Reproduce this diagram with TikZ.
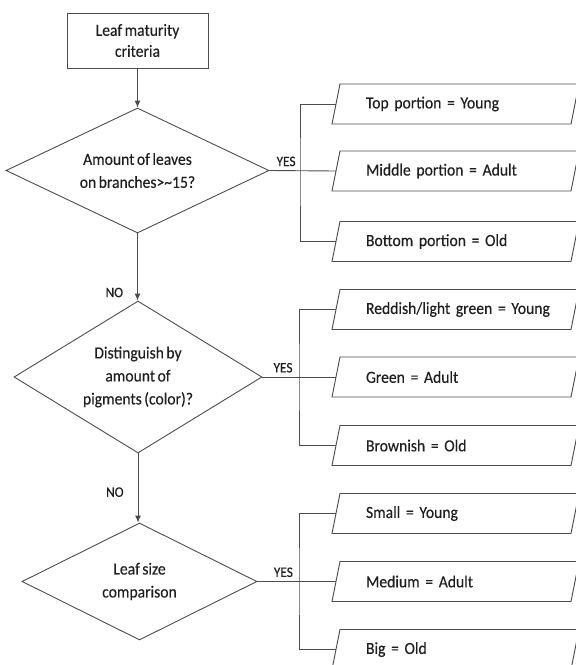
\documentclass[tikz,border=0pt]{standalone}
\usepackage{fontspec}
\setmainfont{Carlito}[FakeStretch=0.92, WordSpace=0.7, FakeBold=0.3]
\usetikzlibrary{shapes.geometric,arrows.meta}
\definecolor{linec}{gray}{0.3}
\definecolor{textc}{gray}{0.12}
\tikzset{
  line/.style={draw=linec, line width=0.9pt},
  arrowline/.style={line, -{Latex[length=7pt,width=6pt]}},
  startbox/.style={line, rectangle, minimum width=141pt, minimum height=55pt, inner sep=0pt, align=center, text=textc, font=\fontsize{17}{21}\selectfont},
  decision/.style={line, diamond, inner sep=0pt, align=center, text=textc, font=\fontsize{17}{23}\selectfont},
  ptext/.style={rectangle, minimum height=40pt, text width=205pt, inner xsep=0pt, align=left, text=textc, font=\fontsize{17}{21}\selectfont},
  lbl/.style={text=textc, inner sep=1pt, font=\fontsize{14.5}{16}\selectfont},
}
\newcommand{\paraout}[3]{%
  \node[ptext] (#1) at (468.5,#2) {#3};
  \draw[line] (332,#2+20) -- (340,#2-20) -- (579,#2-20) -- (571,#2+20) -- cycle;
  \coordinate (#1w) at (336,#2);
}
\begin{document}
\begin{tikzpicture}[x=1pt,y=-1pt]
\useasboundingbox (0,0) rectangle (576,665);
\clip (0,0) rectangle (576,665);

\node[startbox] (start) at (137.5,40.5) {Leaf maturity\\criteria};

\node[decision, minimum width=263pt, minimum height=125pt, aspect=2.1] (d1) at (137.5,170.5) {Amount of leaves\\on branches>\textasciitilde15?};
\node[decision, minimum width=248pt, minimum height=152pt, aspect=1.63] (d2) at (138,377) {Distinguish by\\amount of\\pigments (color)?};
\node[decision, minimum width=235pt, minimum height=117pt, aspect=2.0] (d3) at (139.5,581.5) {Leaf size\\comparison};

% outputs
\paraout{a1}{104}{Top portion = Young}
\paraout{a2}{171}{Middle portion = Adult}
\paraout{a3}{241.5}{Bottom portion = Old}
\paraout{b1}{309.5}{Reddish/light green = Young}
\paraout{b2}{377}{Green = Adult}
\paraout{b3}{445.5}{Brownish = Old}
\paraout{c1}{513.5}{Small = Young}
\paraout{c2}{581.5}{Medium = Adult}
\paraout{c3}{649.5}{Big = Old}

\coordinate (ja) at (300,171);
\coordinate (jb) at (299,377);
\coordinate (jc) at (299,581.5);

% main flow
\draw[arrowline] (start.south) -- (start.south |- d1.north);
\draw[arrowline] (d1.south) -- node[lbl, pos=0.88, anchor=east, xshift=-13pt] (no1) {NO} (d1.south |- d2.north);
\draw[arrowline] (d2.south) -- node[lbl, pos=0.56, anchor=east, xshift=-13pt] (no2) {NO} (d2.south |- d3.north);

% yes branches
\draw[line] (d1.east) -- node[lbl, pos=0.25, anchor=south, yshift=3pt] (yes1) {YES} (a2w);
\draw[line] (a1w) -| (ja) |- (a3w);
\draw[line] (d2.east) -- node[lbl, pos=0.28, anchor=south, yshift=3pt] (yes2) {YES} (b2w);
\draw[line] (b1w) -| (jb) |- (b3w);
\draw[line] (d3.east) -- node[lbl, pos=0.33, anchor=south, yshift=3pt] (yes3) {YES} (c2w);
\draw[line] (c1w) -| (jc) |- (c3w);
\end{tikzpicture}
\end{document}
